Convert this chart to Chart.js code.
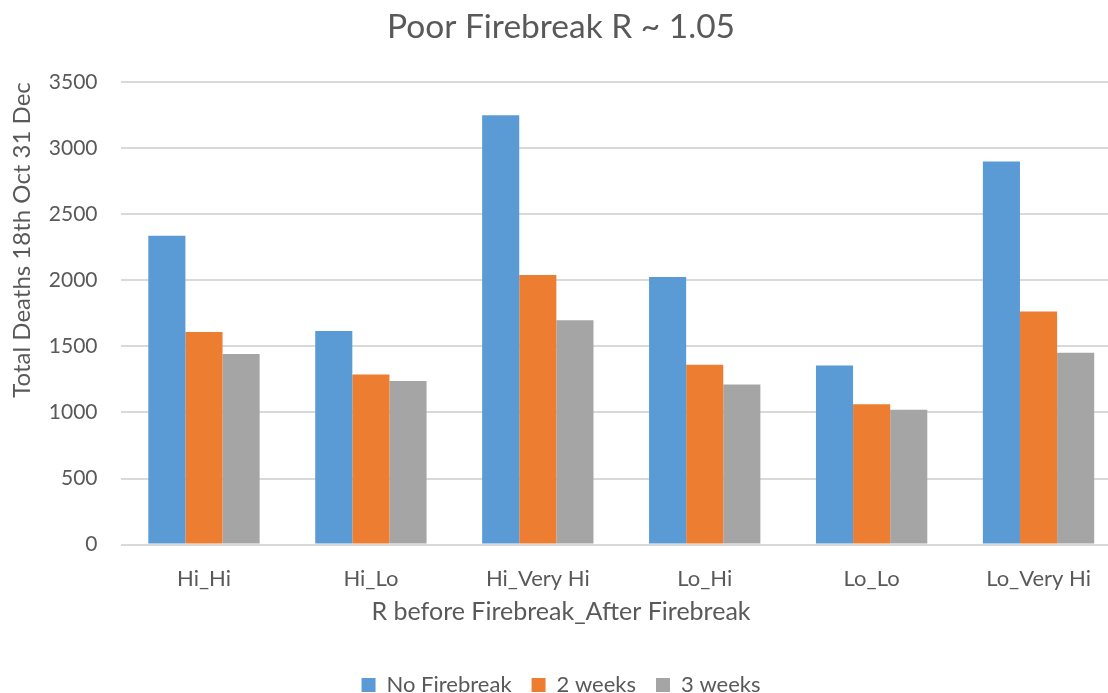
<!DOCTYPE html>
<html>
<head>
<meta charset="utf-8">
<script src="https://cdn.jsdelivr.net/npm/chart.js@4.4.0/dist/chart.umd.min.js"></script>
<style>
  html, body { margin: 0; padding: 0; background: #fff; overflow: hidden; }
  #wrap { width: 1108px; height: 693px; overflow: hidden; }
</style>
</head>
<body>
<div id="wrap"><canvas id="chart" width="1125" height="706"></canvas></div>
<script>
const categories = ['Hi_Hi', 'Hi_Lo', 'Hi_Very Hi', 'Lo_Hi', 'Lo_Lo', 'Lo_Very Hi'];
const noFirebreak = [2337, 1617, 3249, 2025, 1356, 2899];
const twoWeeks = [1609, 1287, 2040, 1361, 1062, 1764];
const threeWeeks = [1442, 1239, 1698, 1211, 1021, 1452];
const yTicks = [0, 500, 1000, 1500, 2000, 2500, 3000, 3500];

const textColor = '#595959';
const font = 'Lato';

const ctx = document.getElementById('chart').getContext('2d');
const chart = new Chart(ctx, {
    type: 'bar',
    data: {
        labels: categories,
        datasets: [
            { label: 'No Firebreak', data: noFirebreak, backgroundColor: '#5B9BD5' },
            { label: '2 weeks', data: twoWeeks, backgroundColor: '#ED7D31' },
            { label: '3 weeks', data: threeWeeks, backgroundColor: '#A5A5A5' }
        ]
    },
    options: {
        responsive: false,
        animation: false,
        datasets: {
            bar: { categoryPercentage: 0.667, barPercentage: 1.0 }
        },
        layout: { padding: { left: 0, right: 3, top: 0, bottom: 0 } },
        plugins: {
            title: {
                display: true,
                text: 'Poor Firebreak R ~ 1.05',
                color: textColor,
                font: { family: font, size: 33.5, weight: 'normal' },
                padding: { top: 7, bottom: 35 }
            },
            subtitle: {
                display: true,
                position: 'bottom',
                weight: 500,
                text: 'R before Firebreak_After Firebreak',
                color: textColor,
                font: { family: font, size: 25, weight: 'normal' },
                padding: { top: -16, bottom: 27 }
            },
            legend: {
                position: 'bottom',
                labels: {
                    color: textColor,
                    font: { family: font, size: 22 },
                    boxWidth: 14,
                    boxHeight: 14,
                    padding: 20
                }
            },
            tooltip: { enabled: false }
        },
        scales: {
            x: {
                grid: { display: false, drawTicks: false },
                border: { display: false },
                ticks: {
                    color: textColor,
                    font: { family: font, size: 22 },
                    padding: 21,
                    maxRotation: 0
                }
            },
            y: {
                min: 0,
                max: 3500,
                afterBuildTicks: (axis) => { axis.ticks = yTicks.map(v => ({ value: v })); },
                grid: { color: '#D9D9D9', lineWidth: 2, drawTicks: false },
                border: { display: false },
                ticks: {
                    color: textColor,
                    font: { family: font, size: 21 },
                    padding: 23,
                    callback: (v) => String(v)
                },
                title: {
                    display: true,
                    align: 'end',
                    text: 'Total Deaths 18th Oct 31 Dec',
                    color: textColor,
                    font: { family: font, size: 24 },
                    padding: { top: 8, bottom: -11 }
                }
            }
        }
    }
});
</script>
</body>
</html>
